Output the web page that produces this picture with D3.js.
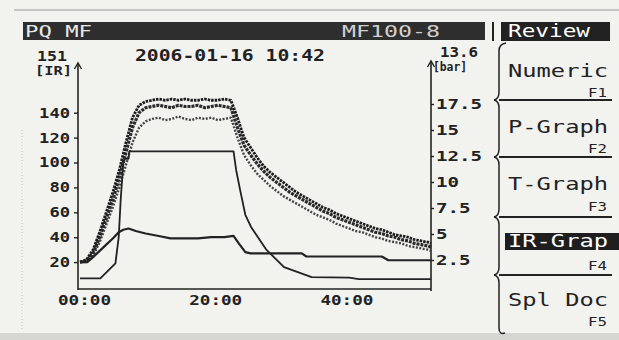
<!DOCTYPE html>
<html><head><meta charset="utf-8">
<script src="https://cdn.jsdelivr.net/npm/d3@7"></script>
<style>
body{margin:0;background:#f2f2ef;}
svg{display:block;}
text{font-family:"DejaVu Sans Mono",monospace;}
</style></head>
<body>
<script>
// ---------- data ----------
const time = [0,1,2,3,4,5,6,7,8,9,10,11,12,13,14,15,16,17,18,19,20,21,22,23,24,25,26,27,28,29,30,31,32,33,34,35,36,37,38,39,40,41,42,43,44,45,46,47,48,49,50,51,52,53,53.5];
const irA = [20,22,30,44,60,76,94,116,136,146,
  149,150,151,150,151,150,151,150,150,151,150,150,151,150,
  136,120,112,104,97,92,88,84,80,76,73,70,67,64,62,59,57,55,53,51,49,47,46,44,42,41,40,38,37,36,35];
const irB = [20,21,27,40,55,70,88,108,128,140,
  144,145,146,145,144,146,145,145,146,144,145,146,145,144,
  128,114,106,99,93,88,84,80,76,73,70,67,64,61,59,56,54,52,50,48,46,44,43,41,40,38,37,35,34,33,32];
const irC = [20,20,25,36,50,64,80,98,116,128,
  133,135,136,134,135,137,135,134,136,135,136,134,135,136,
  120,106,98,91,86,81,77,73,70,67,64,61,58,56,54,51,49,47,45,44,42,40,39,37,36,35,33,32,31,30,29];
const stepT = [0,3.1,5.4,5.9,6.2,6.6,6.8,7.4,7.5,23.4,23.8,24.4,25.2,26.1,28.4,31.1,35.3,41.0,42.5,53.5];
const stepV = [7,7,19,40,70,100,103,103,109,109,94,78,58,48,30,16,8,7.5,6.4,6.4];
const humpT = [0,1.1,2,3,4,5,5.9,6.6,7.4,8.5,10,12,13.8,16,18,20,22,23.4,24.2,25.2,26,30,33.8,34.5,46,47,53.5];
const humpV = [20,20,24,29,34,39,44,46,47,45,43,41,39,39,39,40,40,41,35,28,27,27,27,24.5,24.5,21.5,21.5];
const irTicks = [20,40,60,80,100,120,140];
const barTicks = [2.5,5,7.5,10,12.5,15,17.5];
const timeTicks = [0,20,40];
const buttons = [
  {label:"Numeric", key:"F1"},
  {label:"P-Graph", key:"F2"},
  {label:"T-Graph", key:"F3"},
  {label:"IR-Grap", key:"F4", active:true},
  {label:"Spl Doc", key:"F5"}
];
const headerLeft = "PQ MF", headerRight = "MF100-8", tabLabel = "Review";
const dateLabel = "2006-01-16 10:42";
const irNow = "151", barNow = "13.6";

// ---------- layout ----------
const W = 619, H = 340;
const ink = "#222";
const FIT = "spacingAndGlyphs";
const svg = d3.select("body").append("svg").attr("width", W).attr("height", H);
svg.append("rect").attr("width", W).attr("height", H).attr("fill", "#f2f2ef");
svg.append("line").attr("x1", 14).attr("x2", W).attr("y1", 10).attr("y2", 10).attr("stroke", "#9a9a9a").attr("stroke-width", 1);
svg.append("rect").attr("x", 0).attr("y", 333).attr("width", W).attr("height", 7).attr("fill", "#d6d6d2");
svg.append("line").attr("x1", 22).attr("x2", 22).attr("y1", 130).attr("y2", 330).attr("stroke", "#c4c4c0").attr("stroke-dasharray", "1,2");

const x = d3.scaleLinear().domain([0, 53.5]).range([80, 431]);
const yIR = d3.scaleLinear().domain([0, 178]).range([287, 65.4]);
const yBar = d3.scaleLinear().domain([0, 21.5]).range([286, 62.4]);

// header bar
svg.append("rect").attr("x", 23).attr("y", 22).attr("width", 462).attr("height", 18).attr("fill", "#2e2e2e");
svg.append("text").attr("x", 25).attr("y", 37).attr("font-size", 16).attr("fill", "#e8e8e8")
  .attr("textLength", 67).attr("lengthAdjust", FIT).text(headerLeft);
svg.append("text").attr("x", 342).attr("y", 37).attr("font-size", 16).attr("fill", "#d0d0d0")
  .attr("textLength", 98).attr("lengthAdjust", FIT).text(headerRight);
svg.append("line").attr("x1", 493).attr("x2", 493).attr("y1", 22).attr("y2", 41).attr("stroke", ink).attr("stroke-width", 2);
svg.append("rect").attr("x", 501).attr("y", 22).attr("width", 109).attr("height", 19).attr("fill", "#222");
svg.append("text").attr("x", 508).attr("y", 37).attr("font-size", 17).attr("fill", "#fff")
  .attr("textLength", 82).attr("lengthAdjust", FIT).text(tabLabel);

// chart header texts
const chartText = (t, xx, yy, fs, len) => svg.append("text").attr("x", xx).attr("y", yy)
  .attr("font-size", fs).attr("font-weight", "bold").attr("fill", ink)
  .attr("textLength", len).attr("lengthAdjust", FIT).text(t);
chartText(irNow, 37, 61, 14, 30);
chartText("[IR]", 35, 75, 13, 37);
chartText(dateLabel, 135, 61, 15, 190);
chartText(barNow, 440, 57, 14, 38);
chartText("[bar]", 433, 71, 12, 34);

// axes lines + arrows
const axisG = svg.append("g").attr("stroke", ink).attr("fill", "none").attr("stroke-width", 1.6);
axisG.append("line").attr("x1", 78).attr("x2", 78).attr("y1", 64).attr("y2", 290);
axisG.append("line").attr("x1", 431).attr("x2", 431).attr("y1", 62).attr("y2", 291);
axisG.append("line").attr("x1", 78).attr("x2", 431).attr("y1", 289).attr("y2", 289);
axisG.append("path").attr("d", "M74.5,69 L78,63 L81.5,69").attr("stroke-width", 1.4);
axisG.append("path").attr("d", "M427.5,67 L431,61 L434.5,67").attr("stroke-width", 1.4);

const styleTicks = (g, perChar) => g.selectAll("text")
  .attr("font-size", 14).attr("font-weight", "bold").attr("fill", ink)
  .attr("font-family", "DejaVu Sans Mono")
  .attr("textLength", function () { return this.textContent.length * perChar; })
  .attr("lengthAdjust", FIT);

// left axis
const gl = svg.append("g").attr("transform", "translate(78,0)")
  .call(d3.axisLeft(yIR).tickValues(irTicks).tickSize(4).tickPadding(4).tickSizeOuter(0));
gl.select(".domain").remove();
gl.selectAll("line").attr("stroke", ink).attr("stroke-width", 1.4);
styleTicks(gl, 10.3);

// right axis
const gr = svg.append("g").attr("transform", "translate(431,0)")
  .call(d3.axisRight(yBar).tickValues(barTicks).tickSize(3).tickPadding(2).tickSizeOuter(0)
    .tickFormat(d => String(d)));
gr.select(".domain").remove();
gr.selectAll("line").attr("stroke", ink).attr("stroke-width", 1.4);
styleTicks(gr, 11.5);

// bottom axis
const gb = svg.append("g").attr("transform", "translate(0,289)")
  .call(d3.axisBottom(x).tickValues(timeTicks).tickSize(0).tickPadding(6)
    .tickFormat(d => String(d).padStart(2, "0") + ":00"));
gb.select(".domain").remove();
styleTicks(gb, 10.6);
gb.selectAll("text").attr("dx", 4);

// series
const line = d3.line().x(d => x(d[0])).y(d => yIR(d[1]));
const plot = svg.append("g").attr("fill", "none").attr("stroke-linejoin", "round");
[[irC, 2.4, "2,1.5", "#444"], [irB, 3.2, "3,1", "#2a2a2a"], [irA, 2.8, "2.5,1", "#1c1c1c"]].forEach(([vals, sw, dash, col]) => {
  plot.append("path").datum(time.map((t, i) => [t, vals[i]])).attr("d", line)
    .attr("stroke", col).attr("stroke-width", sw).attr("stroke-dasharray", dash);
});
plot.append("path").datum(stepT.map((t, i) => [t, stepV[i]])).attr("d", line)
  .attr("stroke", ink).attr("stroke-width", 1.8);
plot.append("path").datum(humpT.map((t, i) => [t, humpV[i]])).attr("d", line)
  .attr("stroke", ink).attr("stroke-width", 2.2);

// soft-key buttons
const btnEdges = [43, 100, 157, 217, 275, 336];
const labelBase = [77, 133, 190, 247, 306];
const keyBase = [97, 153, 211, 270, 326];
const bg = svg.append("g");
buttons.forEach((b, i) => {
  const yt = btnEdges[i], yb = btnEdges[i + 1];
  const last = i === buttons.length - 1;
  bg.append("path").attr("fill", "none").attr("stroke", ink).attr("stroke-width", 1.5)
    .attr("d", `M${i === 0 ? 506 : 494},${yt} Q499,${yt + 1} 499,${yt + 8} L499,${yb - 8} Q499,${yb - 1} ${last ? 505 : 494},${last ? yb - 3 : yb}`);
  if (!last) bg.append("line").attr("x1", 499).attr("x2", 612).attr("y1", yb).attr("y2", yb)
    .attr("stroke", ink).attr("stroke-width", 2);
  const ty = labelBase[i];
  if (b.active) {
    bg.append("rect").attr("x", 505).attr("y", ty - 14).attr("width", 114).attr("height", 17).attr("fill", "#1e1e1e");
  }
  bg.append("text").attr("x", 508).attr("y", ty).attr("font-size", 17)
    .attr("fill", b.active ? "#fff" : ink).attr("textLength", 100).attr("lengthAdjust", FIT).text(b.label);
  bg.append("text").attr("x", 607).attr("y", keyBase[i]).attr("font-size", 13).attr("text-anchor", "end")
    .attr("fill", ink).attr("textLength", 19).attr("lengthAdjust", FIT).text(b.key);
});
</script>
</body></html>
